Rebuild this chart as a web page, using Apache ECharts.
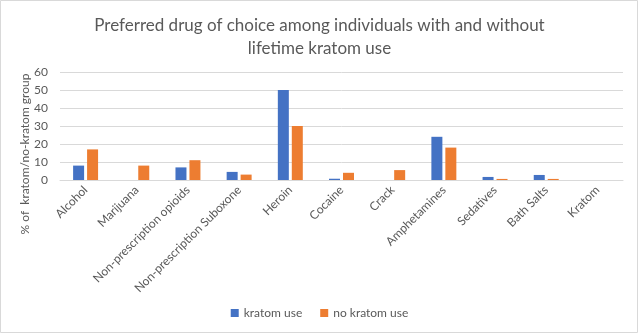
<!DOCTYPE html>
<html><head><meta charset="utf-8">
<script src="https://cdn.jsdelivr.net/npm/echarts@6/dist/echarts.min.js"></script>
<style>html,body{margin:0;padding:0;background:#fff}#c{width:639px;height:334px}</style>
</head><body><div id="c"></div>
<script>
const categories = ["Alcohol","Marijuana","Non-prescription opioids","Non-prescription Suboxone","Heroin","Cocaine","Crack","Amphetamines","Sedatives","Bath Salts","Kratom"];
const kratomUse = [8, 0, 7, 4.5, 50, 0.7, 0, 24, 1.7, 2.8, 0];
const noKratomUse = [17, 8, 11, 3, 30, 4, 5.5, 18, 0.6, 0.6, 0];
const yTicks = [0, 10, 20, 30, 40, 50, 60];
const titleText = "Preferred drug of choice among individuals with and without\nlifetime kratom use";
const yTitle = "% of  kratom/no-kratom group";

const chart = echarts.init(document.getElementById('c'));
const font = 'Lato, "Open Sans", sans-serif';
chart.setOption({
  animation: false,
  backgroundColor: '#fff',
  title: {
    text: titleText, left: 'center', top: 9,
    textStyle: {fontFamily: font, fontSize: 17, fontWeight: 'normal', color: '#595959', lineHeight: 23}
  },
  graphic: [
    {type: 'rect', shape: {x: 0.5, y: 0.5, width: 637, height: 332}, style: {fill: 'none', stroke: '#d9d9d9', lineWidth: 1}, silent: true},
    {type: 'text', x: 25, y: 154, rotation: Math.PI / 2,
     style: {text: yTitle, fontFamily: font, fontSize: 12, fill: '#595959', align: 'center', verticalAlign: 'middle'}}
  ],
  legend: {
    bottom: 10, left: 'center', itemWidth: 8, itemHeight: 8, itemGap: 18,
    icon: 'rect',
    textStyle: {fontFamily: font, fontSize: 12, color: '#595959'},
    data: ['kratom use', 'no kratom use']
  },
  grid: {left: 60, right: 16, top: 72, bottom: 154},
  xAxis: {
    type: 'category', data: categories,
    axisLine: {lineStyle: {color: '#d9d9d9'}},
    axisTick: {show: false},
    axisLabel: {interval: 0, rotate: 45, fontFamily: font, fontSize: 12, color: '#595959', margin: 8}
  },
  yAxis: {
    type: 'value', min: 0, max: 60, interval: 10,
    axisLabel: {fontFamily: font, fontSize: 12, color: '#595959', margin: 12,
      formatter: v => yTicks.includes(v) ? String(v) : ''},
    axisLine: {show: false}, axisTick: {show: false},
    splitLine: {lineStyle: {color: '#d9d9d9'}}
  },
  series: [
    {name: 'kratom use', type: 'bar', data: kratomUse, barWidth: 11, barGap: '27%', itemStyle: {color: '#4472c4'}},
    {name: 'no kratom use', type: 'bar', data: noKratomUse, barWidth: 11, itemStyle: {color: '#ed7d31'}}
  ]
});
</script></body></html>
